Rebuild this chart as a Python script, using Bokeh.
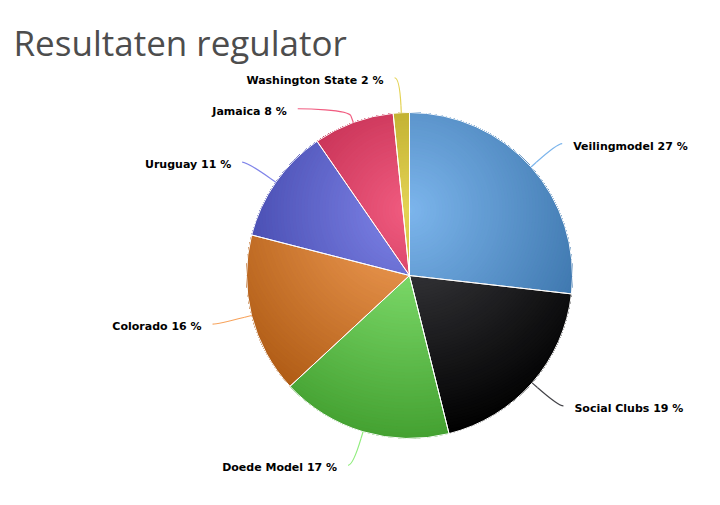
import math
import numpy as np
from bokeh.plotting import figure
from bokeh.models import Range1d, ColumnDataSource
from bokeh.embed import file_html
from bokeh.resources import INLINE
from bokeh.core.properties import value

# ---- data ----
title_text = "Resultaten regulator"
names = ["Veilingmodel", "Social Clubs", "Doede Model", "Colorado", "Uruguay", "Jamaica", "Washington State"]
shares = [26.8, 19.3, 17.0, 15.9, 11.4, 8.0, 1.6]
colors = ["#7cb5ec", "#434348", "#90ed7d", "#f7a35c", "#8085e9", "#f15c80", "#e4d354"]

# ---- layout (page pixel coordinates) ----
W, H = 704, 489
CX, CY = 409.0, 275.0      # pie centre
R = 163.0                  # pie radius
LD = 198.0                 # label circle radius
GCX, GCY = CX, CY - 0.4 * R  # gradient centre
GR = 1.4 * R                 # gradient radius
NB = 76                      # gradient bands

p = figure(width=W, height=H, output_backend="svg", toolbar_location=None,
           x_range=Range1d(0, W), y_range=Range1d(-H, 0),
           min_border=0, x_axis_location=None, y_axis_location=None,
           outline_line_color=None, background_fill_color="white")
p.grid.visible = False


def rgb(c):
    return np.array([int(c[i:i + 2], 16) for i in (1, 3, 5)], dtype=float)


def to_hex(a):
    a = np.clip(np.round(a), 0, 255).astype(int)
    return "#%02x%02x%02x" % tuple(a)


def hull(pts):
    pts = sorted(set((round(float(x), 3), round(float(y), 3)) for x, y in pts))
    if len(pts) < 3:
        return pts

    def cross(o, a, b):
        return (a[0] - o[0]) * (b[1] - o[1]) - (a[1] - o[1]) * (b[0] - o[0])
    lower, upper = [], []
    for q in pts:
        while len(lower) >= 2 and cross(lower[-2], lower[-1], q) <= 0:
            lower.pop()
        lower.append(q)
    for q in reversed(pts):
        while len(upper) >= 2 and cross(upper[-2], upper[-1], q) <= 0:
            upper.pop()
        upper.append(q)
    return lower[:-1] + upper[:-1]


total = float(sum(shares))
fr = np.array(shares) / total
cum = np.concatenate([[0.0], np.cumsum(fr)])
theta0 = cum[:-1] * 2 * math.pi   # clockwise from top
theta1 = cum[1:] * 2 * math.pi

# ---- gradient-filled slices: nested convex bands (slice ∩ disk around gradient centre) ----
gphi = np.linspace(0, 2 * math.pi, 900, endpoint=False)
xs_all, ys_all, cs_all = [], [], []
for i in range(len(shares)):
    base = rgb(colors[i])
    dark = np.clip(base - 76, 0, 255)
    t0, t1 = theta0[i], theta1[i]
    na = max(8, int(math.degrees(t1 - t0) * 4))
    th = np.linspace(t0, t1, na)
    arc = np.column_stack([CX + R * np.sin(th), CY - R * np.cos(th)])
    rr = np.linspace(0, R, 80)
    rad = np.vstack([np.column_stack([CX + rr * math.sin(t), CY - rr * math.cos(t)]) for t in (t0, t1)])
    edge = np.vstack([arc, rad])
    edge_d = np.hypot(edge[:, 0] - GCX, edge[:, 1] - GCY)
    # whole slice in darkest tone
    poly = hull(edge)
    xs_all.append([q[0] for q in poly]); ys_all.append([-q[1] for q in poly])
    cs_all.append(to_hex(dark))
    for j in range(NB, 0, -1):
        d = GR * j / NB
        cand = [edge[edge_d <= d]]
        cxp = GCX + d * np.cos(gphi)
        cyp = GCY + d * np.sin(gphi)
        rp = np.hypot(cxp - CX, cyp - CY)
        ap = np.mod(np.arctan2(cxp - CX, -(cyp - CY)), 2 * math.pi)
        inside = (rp <= R) & (ap >= t0) & (ap <= t1)
        cand.append(np.column_stack([cxp[inside], cyp[inside]]))
        pts = np.vstack(cand)
        if len(pts) < 3:
            continue
        poly = hull(pts)
        if len(poly) < 3:
            continue
        t = (j - 0.5) / NB
        xs_all.append([q[0] for q in poly]); ys_all.append([-q[1] for q in poly])
        cs_all.append(to_hex(base * (1 - t) + dark * t))

p.patches(xs="xs", ys="ys", fill_color="c", line_color=None,
          source=ColumnDataSource(dict(xs=xs_all, ys=ys_all, c=cs_all)))

# white slice borders
p.wedge(x=[CX] * len(shares), y=[-CY] * len(shares), radius=R,
        start_angle=list(math.pi / 2 - theta1), end_angle=list(math.pi / 2 - theta0),
        fill_color=None, line_color="white", line_width=1)

# ---- labels and connectors ----
mid = 0.5 * (theta0 + theta1)
phis = math.pi / 2 - mid
info = []
for i in range(len(shares)):
    phi = phis[i]
    side = 1 if math.cos(phi) >= 0 else -1
    yn = CY - LD * math.sin(phi)
    info.append(dict(i=i, side=side, y=yn, phi=phi))

for side in (1, -1):
    grp = sorted([d for d in info if d["side"] == side], key=lambda d: d["y"])
    for k in range(1, len(grp)):
        grp[k]["y"] = max(grp[k]["y"], grp[k - 1]["y"] + 31)

bz = dict(x0=[], y0=[], x1=[], y1=[], cx0=[], cy0=[], cx1=[], cy1=[], c=[])
sg = dict(x0=[], y0=[], x1=[], y1=[], c=[])
lab_r = dict(x=[], y=[], t=[])
lab_l = dict(x=[], y=[], t=[])
for d in info:
    i, side, y, phi = d["i"], d["side"], d["y"], d["phi"]
    xc = CX + side * math.sqrt(max(0.0, LD ** 2 - (y - CY) ** 2))
    lx = xc + side * 5
    tx, ty = CX + R * math.cos(phi), CY - R * math.sin(phi)
    bx, by = CX + (R + 7) * math.cos(phi), CY - (R + 7) * math.sin(phi)
    bz["x0"].append(lx); bz["y0"].append(-y)
    bz["cx0"].append(lx - side * 5); bz["cy0"].append(-y)
    bz["cx1"].append(2 * bx - tx); bz["cy1"].append(-(2 * by - ty))
    bz["x1"].append(bx); bz["y1"].append(-by)
    bz["c"].append(colors[i])
    sg["x0"].append(bx); sg["y0"].append(-by)
    sg["x1"].append(tx); sg["y1"].append(-ty)
    sg["c"].append(colors[i])
    txt = "%s %d %%" % (names[i], int(round(fr[i] * 100)))
    target = lab_r if side == 1 else lab_l
    target["x"].append(xc + side * 16)
    target["y"].append(-(y + 2.5))
    target["t"].append(txt)

p.bezier(x0="x0", y0="y0", x1="x1", y1="y1", cx0="cx0", cy0="cy0", cx1="cx1", cy1="cy1",
         line_color="c", line_width=1.2, source=ColumnDataSource(bz))
p.segment(x0="x0", y0="y0", x1="x1", y1="y1", line_color="c", line_width=1.2,
          source=ColumnDataSource(sg))

for src, align in ((lab_r, "left"), (lab_l, "right")):
    p.text(x="x", y="y", text="t", source=ColumnDataSource(src),
           text_font=value("DejaVu Sans"), text_font_style="bold",
           text_font_size="11px", text_color="#000000",
           text_align=align, text_baseline="middle")

# ---- title ----
p.text(x=[13], y=[-42], text=[title_text], text_font=value("Open Sans"),
       text_font_size="35px", text_color="#4d4d4d",
       text_align="left", text_baseline="alphabetic")

open("out.html", "w").write(file_html(p, INLINE))
